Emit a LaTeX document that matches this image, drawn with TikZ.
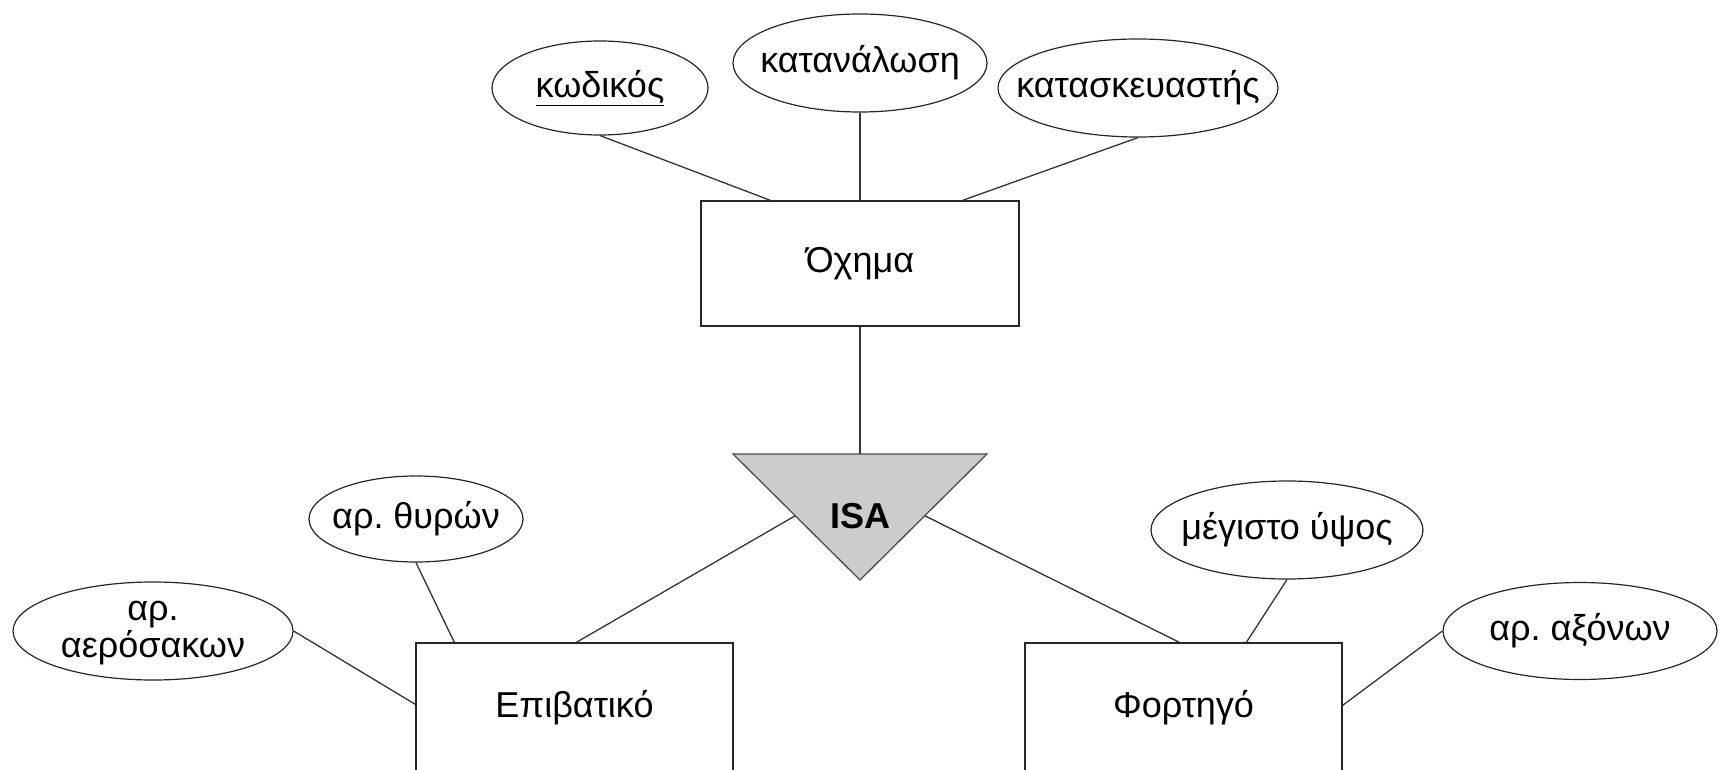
\documentclass[tikz,border=0pt]{standalone}
\usepackage{fontspec}
\setmainfont{Liberation Sans}
\usetikzlibrary{shapes.geometric,calc}
% attribute text that does not widen its ellipse
\newcommand{\attrtext}[1]{\makebox[0pt][c]{#1}}
\begin{document}
\frenchspacing
\begin{tikzpicture}[x=1pt,y=-1pt,
  every node/.style={font=\fontsize{36}{41}\selectfont, inner sep=0pt},
  attr/.style={draw=black!85, line width=1.2pt, ellipse},
  entity/.style={draw=black!85, line width=1.3pt, rectangle},
  link/.style={draw=black!80, line width=1.3pt}]
\useasboundingbox (0,0) rectangle (1723,770);

% entities
\node[entity, minimum width=318, minimum height=125] (veh) at (860,263.5) {Όχημα};
\node[entity, minimum width=317, minimum height=130] (epi) at (574.5,708) {Επιβατικό};
\node[entity, minimum width=317, minimum height=130] (fort) at (1183.5,708) {Φορτηγό};

% attributes
\node[attr, minimum width=216, minimum height=94] (kod) at (600,88) {\attrtext{\underline{κωδικός}}};
\node[attr, minimum width=254, minimum height=98] (kat) at (860,63) {\attrtext{κατανάλωση}};
\node[attr, minimum width=280, minimum height=98] (kats) at (1138,88) {\attrtext{κατασκευαστής}};
\node[attr, minimum width=214, minimum height=86] (thyr) at (416,519) {\attrtext{αρ. θυρών}};
\node[attr, minimum width=280, minimum height=98, inner ysep=-14pt] (aer) at (153,631)
  {\attrtext{\begin{tabular}{@{}c@{}}αρ.\\[-4pt]αερόσακων\end{tabular}}};
\node[attr, minimum width=272, minimum height=98] (ypsos) at (1287,530) {\attrtext{μέγιστο ύψος}};
\node[attr, minimum width=274, minimum height=97] (axon) at (1580,631) {\attrtext{αρ. αξόνων}};

% ISA triangle
\coordinate (isaL) at (733,454);
\coordinate (isaR) at (987,454);
\coordinate (isaB) at (860,580);
\coordinate (isaT) at ($(isaL)!0.5!(isaR)$);
\draw[fill=black!20, draw=black!70, line width=1.3pt, line join=miter] (isaL) -- (isaR) -- (isaB) -- cycle;
\node[font=\fontsize{36}{41}\selectfont\bfseries] (isa) at (860,516) {ISA};

% connectors
\draw[link] (kod.south) -- ($(veh.north west)+(70,0)$);
\draw[link] (kat.south) -- (veh.north);
\draw[link] (kats.south) -- ($(veh.north east)+(-57,0)$);
\draw[link] (veh.south) -- (isaT);
\draw[link] ($(isaL)!0.49!(isaB)$) -- ($(epi.north west)+(161,0)$);
\draw[link] ($(isaR)!0.49!(isaB)$) -- ($(fort.north west)+(155,0)$);
\draw[link] (thyr.south) -- ($(epi.north west)+(39,0)$);
\draw[link] (aer.east) -- ($(epi.north west)+(0,62)$);
\draw[link] (ypsos.south) -- ($(fort.north west)+(222,0)$);
\draw[link] (axon.west) -- ($(fort.north east)+(0,63)$);
\end{tikzpicture}
\end{document}
